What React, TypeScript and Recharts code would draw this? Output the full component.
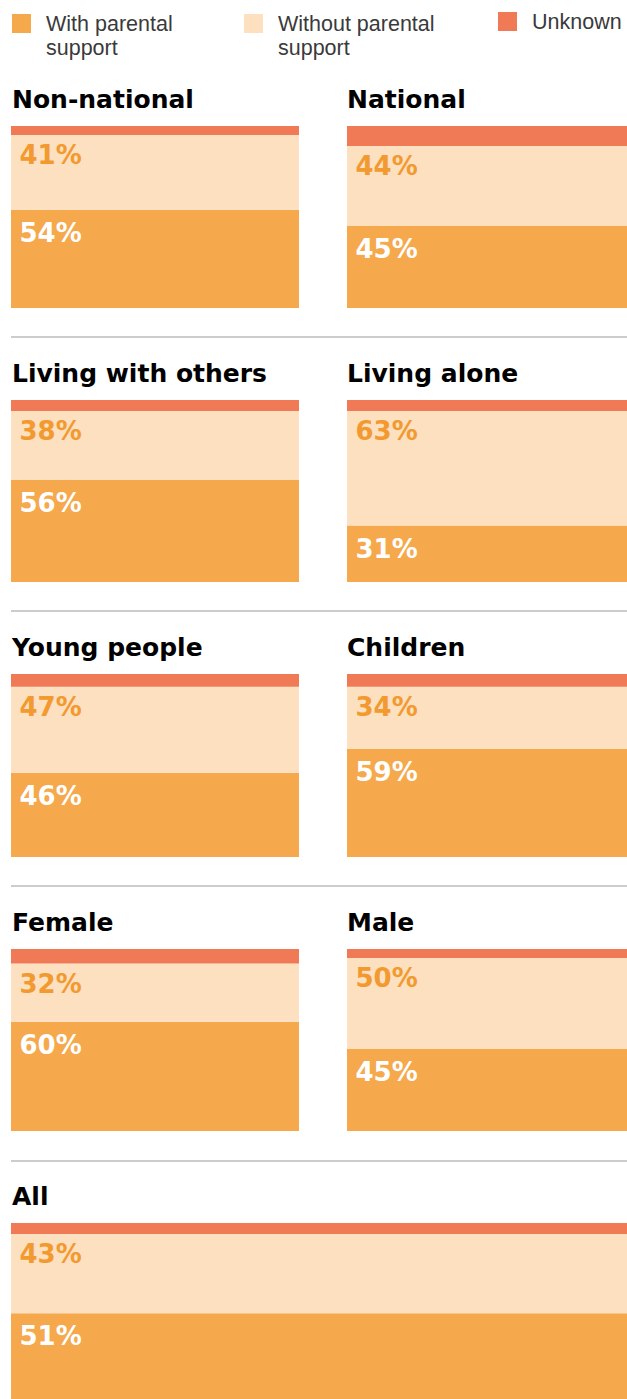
import { BarChart, Bar, XAxis, YAxis, LabelList } from "recharts";

const panels = [
  "Non-national",
  "National",
  "Living with others",
  "Living alone",
  "Young people",
  "Children",
  "Female",
  "Male",
  "All",
];
const withSupport = [54, 45, 56, 31, 46, 59, 60, 45, 51];
const withoutSupport = [41, 44, 38, 63, 47, 34, 32, 50, 43];
const unknown = [5, 11, 6, 6, 7, 7, 8, 5, 6];

const legendItems = [
  { lines: ["With parental", "support"], color: "#F5A84C" },
  { lines: ["Without parental", "support"], color: "#FCE0C0" },
  { lines: ["Unknown"], color: "#EF7A55" },
];

const COLOR_WITH = "#F5A84C";
const COLOR_WITHOUT = "#FCE0C0";
const COLOR_UNKNOWN = "#EF7A55";

// panel boxes (layout only)
const rowTops = [126, 400, 674, 949, 1223];
const rowHeights = [182, 182, 183, 182, 184];
const separators = [337, 611, 886, 1161];

const pctLabel = (fill: string, dy: number) => (props: any) => {
  const { x, y, value } = props;
  return (
    <text
      x={Number(x) + 8.5}
      y={Number(y) + dy}
      fill={fill}
      fontFamily="DejaVu Sans"
      fontWeight="bold"
      fontSize={26}
    >
      {value}%
    </text>
  );
};

const Panel = ({ i, width, height }: { i: number; width: number; height: number }) => {
  const data = [
    { name: panels[i], with: withSupport[i], without: withoutSupport[i], unknown: unknown[i] },
  ];
  return (
    <BarChart
      width={width}
      height={height}
      data={data}
      margin={{ top: 0, right: 0, bottom: 0, left: 0 }}
      barCategoryGap={0}
    >
      <XAxis dataKey="name" hide />
      <YAxis hide domain={[0, 100]} />
      <Bar dataKey="with" stackId="a" fill={COLOR_WITH} isAnimationActive={false}>
        <LabelList dataKey="with" content={pctLabel("#FFFFFF", 32)} />
      </Bar>
      <Bar dataKey="without" stackId="a" fill={COLOR_WITHOUT} isAnimationActive={false}>
        <LabelList dataKey="without" content={pctLabel("#F29A30", 29)} />
      </Bar>
      <Bar dataKey="unknown" stackId="a" fill={COLOR_UNKNOWN} isAnimationActive={false} />
    </BarChart>
  );
};

export default function App() {
  const legendX = [12, 244, 498];
  return (
    <div style={{ position: "relative", width: 627, height: 1399, overflow: "hidden", background: "#fff" }}>
      <style>{`body{margin:0}`}</style>
      <svg width={627} height={1399} style={{ position: "absolute", left: 0, top: 0 }}>
        {legendItems.map((item, k) => (
          <g key={item.lines[0]}>
            <rect x={legendX[k]} y={k === 2 ? 12 : 14} width={19} height={19} fill={item.color} />
            {item.lines.map((line, j) => (
              <text
                key={line}
                x={legendX[k] + 34}
                y={(k === 2 ? 29 : 31) + j * 24}
                fontFamily="Liberation Sans"
                fontSize={21.5}
                fill="#3a3a3a"
              >
                {line}
              </text>
            ))}
          </g>
        ))}
        {panels.map((p, i) => {
          const row = Math.floor(i / 2);
          const x = i === 8 ? 12 : i % 2 === 0 ? 12 : 347;
          return (
            <text
              key={p}
              x={x}
              y={rowTops[row] - 18}
              fontFamily="DejaVu Sans"
              fontWeight="bold"
              fontSize={25}
              fill="#000"
            >
              {p}
            </text>
          );
        })}
        {separators.map((y) => (
          <line key={y} x1={11} x2={627} y1={y} y2={y} stroke="#BBBBBB" strokeWidth={1.5} />
        ))}
      </svg>
      {panels.map((p, i) => {
        const row = Math.floor(i / 2);
        const left = i === 8 ? 11 : i % 2 === 0 ? 11 : 347;
        const width = i === 8 ? 616 : i % 2 === 0 ? 288 : 280;
        return (
          <div key={p} style={{ position: "absolute", left, top: rowTops[row] }}>
            <Panel i={i} width={width} height={rowHeights[row]} />
          </div>
        );
      })}
    </div>
  );
}
